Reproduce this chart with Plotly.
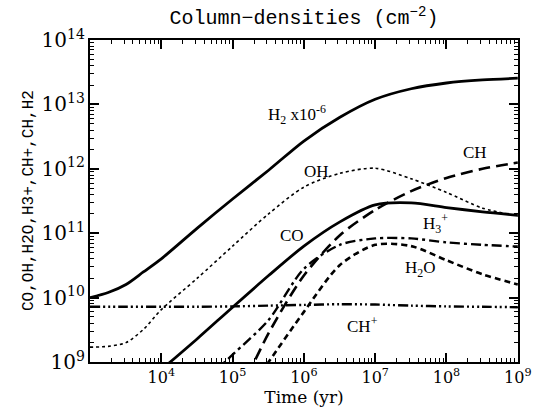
import plotly.graph_objects as go

# ---- data ----
h2_t = [1e3, 1.8e3, 3.2e3, 5.6e3, 1e4, 3.2e4, 1e5, 3.2e5, 1e6, 3.2e6, 1e7, 3.2e7, 1e8, 3.2e8, 1e9]
h2_v = [1.0e10, 1.2e10, 1.6e10, 2.5e10, 4.0e10, 1.2e11, 3.4e11, 9.5e11, 2.7e12, 6.3e12, 1.2e13, 1.75e13, 2.15e13, 2.4e13, 2.55e13]

oh_t = [1e3, 1.8e3, 3.2e3, 5.6e3, 1e4, 3.2e4, 1e5, 3.2e5, 1e6, 3.2e6, 1e7, 3.2e7, 1e8, 3.2e8, 1e9]
oh_v = [1.7e9, 1.75e9, 2.0e9, 3.2e9, 6.5e9, 2.0e10, 6.3e10, 2.0e11, 5.2e11, 8.5e11, 1.02e12, 7.0e11, 4.3e11, 2.45e11, 1.85e11]

co_t = [1e4, 3.2e4, 1e5, 3.2e5, 1e6, 3.2e6, 1e7, 3.2e7, 1e8, 3.2e8, 1e9]
co_v = [7.6e8, 2.3e9, 7.1e9, 2.2e10, 6.3e10, 1.5e11, 2.75e11, 2.95e11, 2.5e11, 2.15e11, 1.9e11]

ch_t = [1e5, 3.2e5, 1e6, 3.2e6, 1e7, 3.2e7, 1e8, 3.2e8, 1e9]
ch_v = [1.9e8, 2.8e9, 2.2e10, 9.3e10, 2.3e11, 4.5e11, 7.2e11, 1.0e12, 1.25e12]

h2o_t = [1e5, 3.2e5, 1e6, 3.2e6, 1e7, 3.2e7, 1e8, 3.2e8, 1e9]
h2o_v = [1.6e8, 1.0e9, 6.0e9, 3.2e10, 6.6e10, 6.3e10, 3.8e10, 2.3e10, 1.6e10]

h3p_t = [3.2e4, 1e5, 3.2e5, 1e6, 3.2e6, 1e7, 3.2e7, 1e8, 3.2e8, 1e9]
h3p_v = [4.0e8, 1.3e9, 4.5e9, 2.8e10, 6.6e10, 8.3e10, 8.3e10, 7.2e10, 6.6e10, 6.2e10]

chp_t = [1e3, 3.2e3, 1e4, 3.2e4, 1e5, 3.2e5, 1e6, 3.2e6, 1e7, 3.2e7, 1e8, 3.2e8, 1e9]
chp_v = [7.2e9, 7.2e9, 7.2e9, 7.2e9, 7.3e9, 7.5e9, 7.7e9, 7.9e9, 7.8e9, 7.5e9, 7.3e9, 7.2e9, 7.1e9]

labels = ["H<sub>2</sub> x10<sup>-6</sup>", "OH", "CH", "CO", "H<sub>3</sub><sup>+</sup>", "H<sub>2</sub>O", "CH<sup>+</sup>"]
# label positions as log10(time), log10(column density)
label_lx = [5.91, 6.17, 8.40, 5.83, 7.84, 7.63, 6.82]
label_ly = [12.85, 11.96, 12.26, 10.97, 11.15, 10.44, 9.57]

tick_x = [1e4, 1e5, 1e6, 1e7, 1e8, 1e9]
tick_x_text = ["10<sup>4</sup>", "10<sup>5</sup>", "10<sup>6</sup>", "10<sup>7</sup>", "10<sup>8</sup>", "10<sup>9</sup>"]

# ---- figure ----
fig = go.Figure()
series = [
    (h2_t, h2_v, "solid", 2.8),
    (oh_t, oh_v, "dot", 1.6),
    (co_t, co_v, "solid", 2.8),
    (ch_t, ch_v, "12px,6px", 2.6),
    (h2o_t, h2o_v, "6px,4px", 2.6),
    (h3p_t, h3p_v, "10px,4px,3px,4px", 2.4),
    (chp_t, chp_v, "10px,3px,2px,3px,2px,3px,2px,3px", 2.4),
]
for t, v, dash, w in series:
    fig.add_trace(go.Scatter(x=t, y=v, mode="lines",
                             line=dict(color="black", width=w, dash=dash, shape="spline", smoothing=0.8),
                             showlegend=False, hoverinfo="skip"))

for txt, lx, ly in zip(labels, label_lx, label_ly):
    fig.add_annotation(x=lx, y=ly, xref="x", yref="y", text=txt, showarrow=False,
                       font=dict(family="Liberation Serif", size=17, color="black"))

fig.add_annotation(x=0, y=0.5, xref="paper", yref="paper", xshift=-72, text="CO,OH,H2O,H3+,CH+,CH,H2",
                   textangle=-90, showarrow=False, font=dict(family="Liberation Mono", size=16, color="black"))

axis_common = dict(type="log", showgrid=False, zeroline=False, showline=True, linecolor="black", linewidth=2,
                   mirror="allticks", ticks="inside", ticklen=9, tickwidth=1.5, tickcolor="black",
                   exponentformat="power", tickfont=dict(family="DejaVu Serif", size=16, color="black"),
                   minor=dict(ticks="inside", ticklen=4, tickwidth=1, tickcolor="black", dtick="D1", showgrid=False))

fig.update_xaxes(**axis_common, range=[3, 9.003], tickmode="array", tickvals=tick_x, ticktext=tick_x_text,
                 title=dict(text="Time (yr)", font=dict(family="DejaVu Serif", size=17, color="black"), standoff=4))
fig.update_yaxes(**axis_common, range=[9, 14], dtick=1)

fig.update_layout(
    width=544, height=419, autosize=False,
    margin=dict(l=90, r=18, t=40, b=57),
    paper_bgcolor="white", plot_bgcolor="white",
    title=dict(text="Column\u2212densities (cm<sup>\u22122</sup>)", x=0.5, xref="paper", y=0.975, yanchor="top",
               font=dict(family="Liberation Mono", size=20, color="black")),
)

fig.write_html("out.html")
